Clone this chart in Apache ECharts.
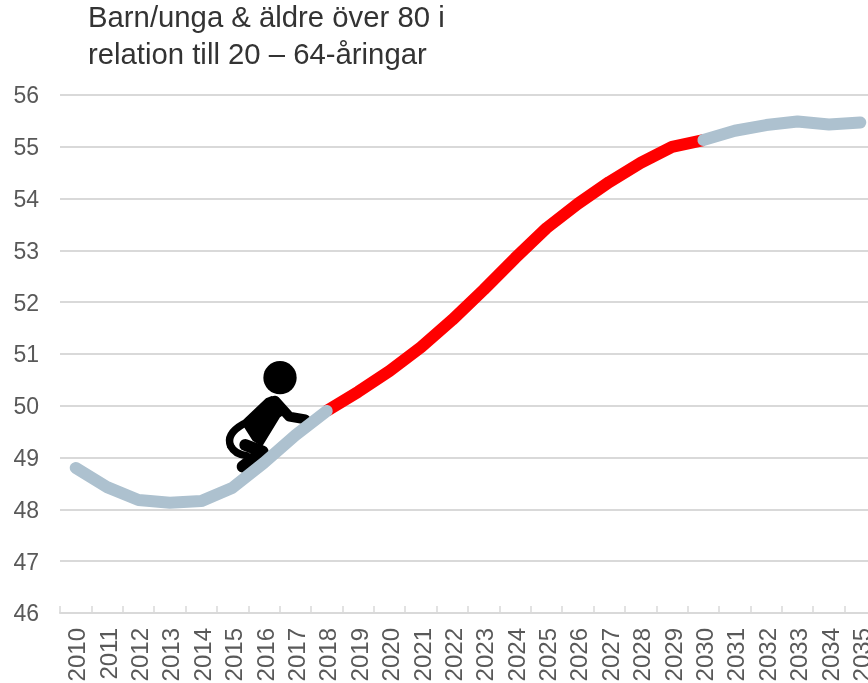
<!DOCTYPE html>
<html lang="en">
<head>
  <meta charset="utf-8">
  <title>Barn/unga och äldre</title>
  <script src="https://fastly.jsdelivr.net/npm/echarts@6/dist/echarts.min.js"></script>
  <style>
    * { margin: 0; padding: 0; }
    html, body { background: #fff; overflow: hidden; }
    #chart { width: 868px; height: 683px; }
  </style>
</head>
<body>
  <div id="chart"></div>
  <script>
    var years = ['2010','2011','2012','2013','2014','2015','2016','2017','2018','2019','2020','2021','2022',
      '2023','2024','2025','2026','2027','2028','2029','2030','2031','2032','2033','2034','2035'];
    var beforeValues = [48.8,48.43,48.18,48.13,48.16,48.42,48.9,49.43,49.9];
    var redValues = [49.9,50.27,50.67,51.13,51.66,52.24,52.85,53.43,53.9,54.32,54.69,55.0,55.13];
    var afterValues = [55.13,55.31,55.42,55.49,55.43,55.47];
    var yTicks = [46,47,48,49,50,51,52,53,54,55,56];

    var fontName = '"Liberation Sans", Arial, sans-serif';
    var greyLine = '#adc1cf';

    function pad(values, start) {
      var out = [];
      for (var i = 0; i < start; i++) out.push(null);
      return out.concat(values);
    }

    var myChart = echarts.init(document.getElementById('chart'), null, { renderer: 'canvas' });

    var option = {
      animation: false,
      grid: { left: 60, top: 95, width: 816, height: 518, outerBoundsMode: 'none' },
      xAxis: {
        type: 'category',
        data: years,
        boundaryGap: true,
        axisLine: { lineStyle: { color: '#d9d9d9', width: 2 } },
        axisTick: { show: true, inside: true, length: 7, lineStyle: { color: '#d9d9d9', width: 1.5 } },
        axisLabel: {
          rotate: 90, interval: 0, margin: 15, hideOverlap: false,
          formatter: '{y|{value}}',
          rich: { y: { color: '#595959', fontSize: 24, fontFamily: fontName, padding: [6, 0, 0, 0] } }
        }
      },
      yAxis: {
        type: 'value',
        min: yTicks[0],
        max: yTicks[yTicks.length - 1],
        interval: 1,
        axisLine: { show: false },
        axisTick: { show: false },
        splitLine: { lineStyle: { color: '#d9d9d9', width: 2 } },
        axisLabel: {
          margin: 21,
          formatter: '{v|{value}}',
          rich: { v: { color: '#595959', fontSize: 23, fontFamily: fontName, padding: [4, 0, 0, 0] } }
        }
      },
      series: [
        {
          type: 'line', data: pad(redValues, 8), showSymbol: false, clip: false, z: 2,
          lineStyle: { color: '#ff0000', width: 12, cap: 'butt' }
        },
        {
          type: 'line', data: beforeValues, showSymbol: false, clip: false, z: 3,
          lineStyle: { color: greyLine, width: 12, cap: 'round' }
        },
        {
          type: 'line', data: pad(afterValues, 20), showSymbol: false, clip: false, z: 3,
          lineStyle: { color: greyLine, width: 12, cap: 'round' }
        }
      ],
      graphic: [
        {
          type: 'text', x: 88, y: 0,
          style: {
            text: 'Barn/unga & äldre över 80 i\nrelation till 20 – 64-åringar',
            font: '29.3px ' + fontName, fill: '#333333', lineHeight: 37
          }
        },
        {
          // climbing figure, drawn in 3x units
          type: 'group', x: 200, y: 340, scaleX: 1 / 3, scaleY: 1 / 3,
          children: [
            { type: 'circle', z: 1, shape: { cx: 240, cy: 113, r: 50 }, style: { fill: '#000' } },
            {
              type: 'polygon', z: 1,
              shape: { points: [[198,175],[215,168],[232,175],[270,212],[240,232],[186,320],[158,302],[130,258],[100,268]] },
              style: { fill: '#000' }
            },
            {
              type: 'polyline', z: 1,
              shape: { points: [[225,182],[268,230],[316,238]] },
              style: { fill: null, stroke: '#000', lineWidth: 30, lineCap: 'round', lineJoin: 'round' }
            },
            {
              type: 'bezierCurve', z: 1,
              shape: { x1: 130, y1: 252, cpx1: 95, cpy1: 272, cpx2: 82, cpy2: 295, x2: 92, y2: 318 },
              style: { fill: null, stroke: '#000', lineWidth: 22, lineCap: 'round' }
            },
            {
              type: 'bezierCurve', z: 1,
              shape: { x1: 92, y1: 318, cpx1: 102, cpy1: 338, cpx2: 122, cpy2: 345, x2: 140, y2: 347 },
              style: { fill: null, stroke: '#000', lineWidth: 22, lineCap: 'round' }
            },
            {
              type: 'polyline', z: 1,
              shape: { points: [[136,315],[188,335],[128,380]] },
              style: { fill: null, stroke: '#000', lineWidth: 36, lineCap: 'round', lineJoin: 'round' }
            }
          ]
        }
      ]
    };

    myChart.setOption(option);
  </script>
</body>
</html>
